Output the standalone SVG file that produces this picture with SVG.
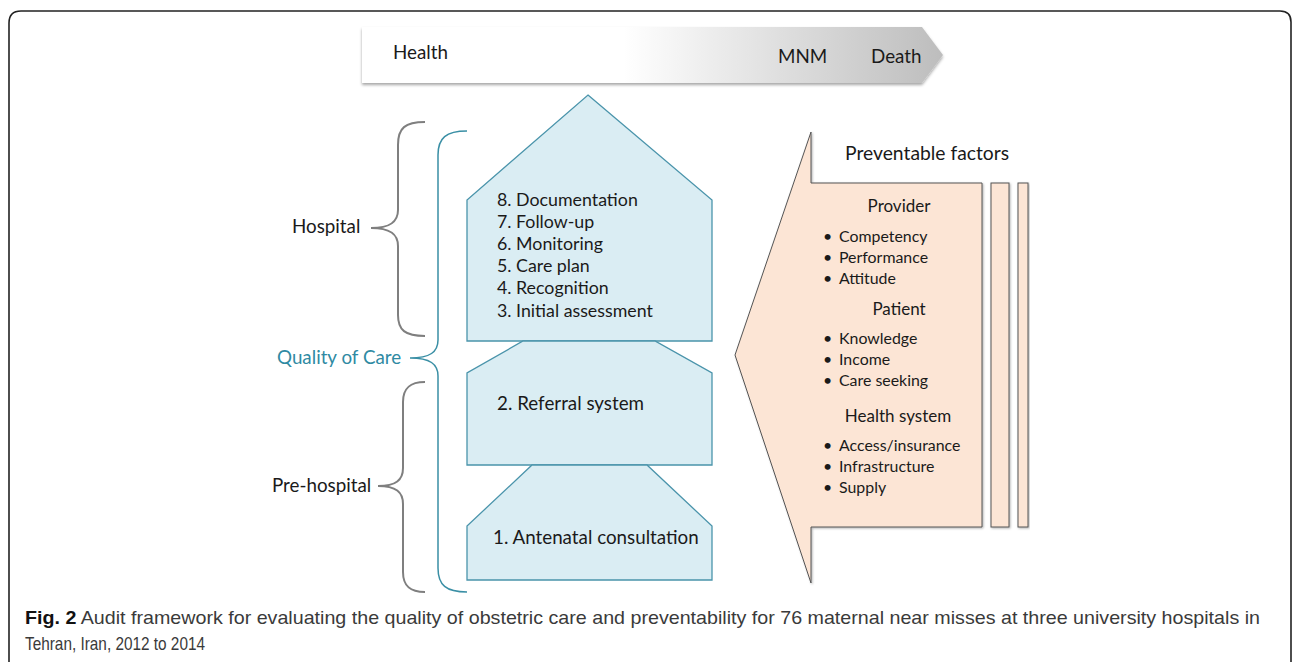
<svg xmlns="http://www.w3.org/2000/svg" width="1292" height="662" viewBox="0 0 1292 662">
<defs>
<linearGradient id="gArrow" x1="0" y1="0" x2="1" y2="0">
<stop offset="0" stop-color="#ffffff"/>
<stop offset="0.45" stop-color="#ffffff"/>
<stop offset="1" stop-color="#bdbdbd"/>
</linearGradient>
<filter id="shadow" x="-5%" y="-20%" width="110%" height="150%">
<feDropShadow dx="0" dy="2" stdDeviation="1.5" flood-color="#000" flood-opacity="0.35"/>
</filter>
<filter id="shadow2" x="-20%" y="-5%" width="140%" height="110%">
<feDropShadow dx="1" dy="1" stdDeviation="1" flood-color="#000" flood-opacity="0.3"/>
</filter>
</defs>
<style>
text{font-family:Lato,"Open Sans","Liberation Sans",sans-serif;fill:#1a1a1a}
.t{font-size:17.8px}
.h{font-size:18.8px}
.s{font-size:17px}
.f{font-size:15.9px}
.pent{fill:#daedf3;stroke:#4a94ab;stroke-width:1.3}
.peach{fill:#fce5d5;stroke:#555;stroke-width:1}
.brace{fill:none;stroke:#7f7f7f;stroke-width:2}
.qbrace{fill:none;stroke:#3a8fa5;stroke-width:1.5}
.cap{font-family:"Liberation Sans",Arial,sans-serif;font-size:19px;fill:#3a3a3a}
</style>
<rect width="1292" height="662" fill="#ffffff"/>
<path d="M9,662 V23 Q9,11 21,11 H1280 Q1291,11 1291,22 V662" fill="none" stroke="#222" stroke-width="1.6"/>

<g id="health-arrow">
<path d="M362,27 H922 L943,55 L922,83 H362 Z" fill="url(#gArrow)" filter="url(#shadow)"/>
<text x="393" y="59" class="h">Health</text>
<text x="778" y="63" class="h">MNM</text>
<text x="871" y="63" class="h">Death</text>
</g>

<g id="hospital-block">
<path class="pent" d="M588,95 L712,200 V341 H467 V200 Z"/>
<text class="t" x="497" y="206">8. Documentation</text>
<text class="t" x="497" y="228">7. Follow-up</text>
<text class="t" x="497" y="250">6. Monitoring</text>
<text class="t" x="497" y="272">5. Care plan</text>
<text class="t" x="497" y="294">4. Recognition</text>
<text class="t" x="497" y="317">3. Initial assessment</text>
</g>

<g id="referral-block">
<path class="pent" d="M523,341 H655 L712,373 V465 H467 V373 Z"/>
<text class="h" x="497" y="410">2. Referral system</text>
</g>

<g id="antenatal-block">
<path class="pent" d="M532,465 H647 L712,526 V580 H467 V526 Z"/>
<text class="h" x="493" y="544">1. Antenatal consultation</text>
</g>

<g id="connectors">
<path class="brace" d="M425,122 C405,122 398,128 398,145 V210 C398,222 390,228 371,228 C390,228 398,234 398,246 V315 C398,330 405,336 425,336"/>
<path class="qbrace" d="M467,131 C446,131 438,138 438,155 V340 C438,352 430,358 410,358 C430,358 438,364 438,376 V568 C438,585 446,592 467,592"/>
<path class="brace" d="M425,382 C410,382 403,388 403,402 V468 C403,480 396,486 378,486 C396,486 403,492 403,504 V572 C403,586 410,592 425,592"/>
</g>

<g id="labels">
<text class="h" x="292" y="233">Hospital</text>
<text class="h" x="277" y="364" style="fill:#2f8aa3">Quality of Care</text>
<text class="h" x="272" y="492">Pre-hospital</text>
</g>

<g id="preventable-factors">
<rect class="peach" x="1018" y="183" width="10" height="344" filter="url(#shadow2)"/>
<rect class="peach" x="991" y="183" width="18" height="344" filter="url(#shadow2)"/>
<path class="peach" d="M811,132 V183 H982 V527 H811 V583 L735,355 Z" filter="url(#shadow2)"/>
<text x="845" y="160" style="font-size:19.3px">Preventable factors</text>
<text class="s" x="899" y="212" text-anchor="middle">Provider</text>
<text class="f" x="823" y="242">•</text><text class="f" x="839" y="242">Competency</text>
<text class="f" x="823" y="263">•</text><text class="f" x="839" y="263">Performance</text>
<text class="f" x="823" y="284">•</text><text class="f" x="839" y="284">Attitude</text>
<text class="s" x="899" y="315" text-anchor="middle">Patient</text>
<text class="f" x="823" y="344">•</text><text class="f" x="839" y="344">Knowledge</text>
<text class="f" x="823" y="365">•</text><text class="f" x="839" y="365">Income</text>
<text class="f" x="823" y="386">•</text><text class="f" x="839" y="386">Care seeking</text>
<text class="s" x="898" y="422" text-anchor="middle">Health system</text>
<text class="f" x="823" y="451">•</text><text class="f" x="839" y="451">Access/insurance</text>
<text class="f" x="823" y="472">•</text><text class="f" x="839" y="472">Infrastructure</text>
<text class="f" x="823" y="493">•</text><text class="f" x="839" y="493">Supply</text>
</g>

<g id="caption">
<text class="cap" x="25" y="624" textLength="1235" lengthAdjust="spacingAndGlyphs"><tspan style="font-weight:bold;fill:#111">Fig. 2</tspan> Audit framework for evaluating the quality of obstetric care and preventability for 76 maternal near misses at three university hospitals in</text>
<text class="cap" x="25" y="650" textLength="180" lengthAdjust="spacingAndGlyphs">Tehran, Iran, 2012 to 2014</text>
</g>
</svg>
